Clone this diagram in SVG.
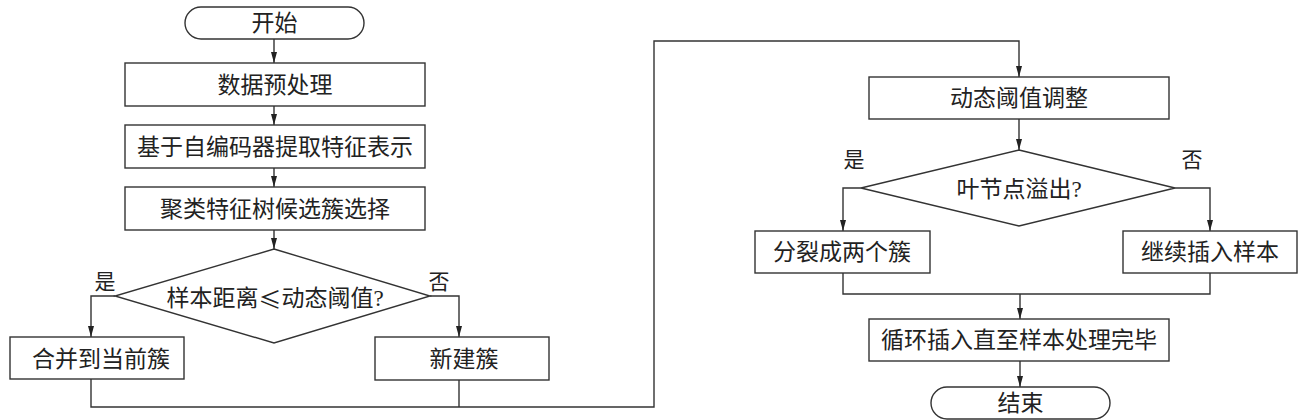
<svg xmlns="http://www.w3.org/2000/svg" width="1308" height="420" viewBox="0 0 1308 420">
<style>
  .shape { fill: #ffffff; stroke: #333333; stroke-width: 1.4; }
  .conn { fill: none; stroke: #333333; stroke-width: 1.4; }
  .label { font-family: "Liberation Serif", "Noto Sans CJK SC", serif; font-size: 23px; fill: #222222; text-anchor: middle; dominant-baseline: central; }
  .yn { font-family: "Liberation Serif", "Noto Sans CJK SC", serif; font-size: 21px; fill: #222222; text-anchor: middle; dominant-baseline: central; }
  .cjk { font-family: "Noto Sans CJK SC", sans-serif; }
</style>
<defs>
  <marker id="arrow" markerUnits="userSpaceOnUse" markerWidth="12" markerHeight="8" refX="11" refY="4" orient="auto">
    <path d="M0,1 L11,4 L0,7 z" fill="#222222"/>
  </marker>
</defs>
<rect width="1308" height="420" fill="#ffffff"/>

<g id="connectors">
  <path class="conn" d="M274,39 V63" marker-end="url(#arrow)"/>
  <path class="conn" d="M274,106 V125" marker-end="url(#arrow)"/>
  <path class="conn" d="M274,168 V187" marker-end="url(#arrow)"/>
  <path class="conn" d="M274,230 V249" marker-end="url(#arrow)"/>
  <path class="conn" d="M115,296 H91 V337" marker-end="url(#arrow)"/>
  <path class="conn" d="M430,296 H459 V337" marker-end="url(#arrow)"/>
  <path class="conn" d="M91,379 V407 H654 V41 H1019 V77" marker-end="url(#arrow)"/>
  <path class="conn" d="M459,380 V407"/>
  <path class="conn" d="M1019,119 V150" marker-end="url(#arrow)"/>
  <path class="conn" d="M861,188 H843 V231" marker-end="url(#arrow)"/>
  <path class="conn" d="M1175,188 H1210 V231" marker-end="url(#arrow)"/>
  <path class="conn" d="M843,273 V294 H1210 V273"/>
  <path class="conn" d="M1020,294 V319" marker-end="url(#arrow)"/>
  <path class="conn" d="M1020,361 V387" marker-end="url(#arrow)"/>
</g>

<g id="start">
  <rect class="shape" x="185" y="7" width="179" height="32" rx="16" ry="16"/>
  <text class="label" x="274.5" y="23">开始</text>
</g>
<g id="preprocess">
  <rect class="shape" x="125" y="63" width="300" height="43"/>
  <text class="label" x="275" y="85">数据预处理</text>
</g>
<g id="autoencoder">
  <rect class="shape" x="125" y="125" width="300" height="43"/>
  <text class="label" x="275" y="147">基于自编码器提取特征表示</text>
</g>
<g id="cftree">
  <rect class="shape" x="125" y="187" width="300" height="43"/>
  <text class="label" x="275" y="209">聚类特征树候选簇选择</text>
</g>
<g id="decision1">
  <polygon class="shape" points="274,249 430,296 274,343 115,296"/>
  <text class="label" x="275" y="298">样本距离<tspan class="cjk">≤</tspan>动态阈值?</text>
  <text class="yn" x="105" y="282">是</text>
  <text class="yn" x="439" y="282">否</text>
</g>
<g id="merge">
  <rect class="shape" x="10" y="337" width="174" height="42"/>
  <text class="label" x="101" y="359">合并到当前簇</text>
</g>
<g id="newcluster">
  <rect class="shape" x="375" y="337" width="174" height="43"/>
  <text class="label" x="464" y="359">新建簇</text>
</g>
<g id="threshold">
  <rect class="shape" x="869" y="77" width="300" height="42"/>
  <text class="label" x="1019" y="98">动态阈值调整</text>
</g>
<g id="decision2">
  <polygon class="shape" points="1019,150 1175,188 1019,226 861,188"/>
  <text class="label" x="1019" y="189">叶节点溢出?</text>
  <text class="yn" x="854" y="160">是</text>
  <text class="yn" x="1192" y="160">否</text>
</g>
<g id="split">
  <rect class="shape" x="755" y="231" width="175" height="42"/>
  <text class="label" x="842" y="252">分裂成两个簇</text>
</g>
<g id="continue">
  <rect class="shape" x="1123" y="231" width="174" height="42"/>
  <text class="label" x="1210" y="252">继续插入样本</text>
</g>
<g id="loop">
  <rect class="shape" x="869" y="319" width="300" height="42"/>
  <text class="label" x="1019" y="340">循环插入直至样本处理完毕</text>
</g>
<g id="end">
  <rect class="shape" x="931" y="387" width="179" height="32" rx="16" ry="16"/>
  <text class="label" x="1020.5" y="403">结束</text>
</g>
</svg>
